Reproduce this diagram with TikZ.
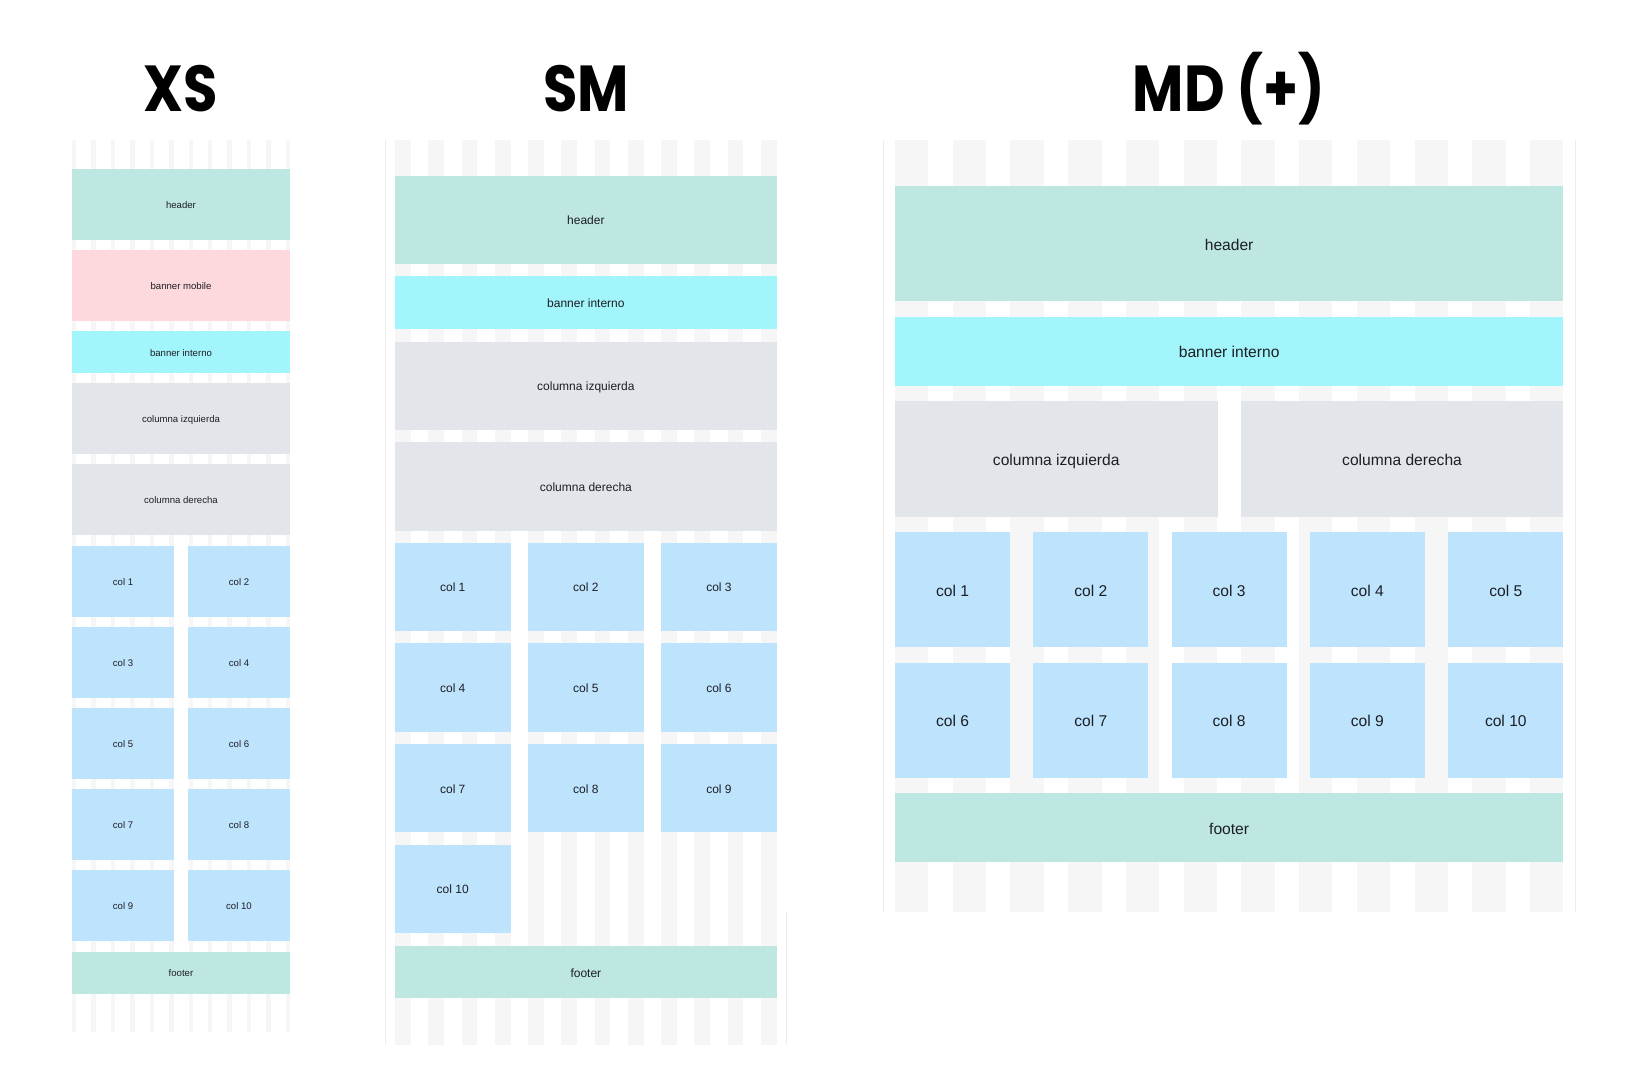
\documentclass[tikz,border=0pt]{standalone}
\usepackage{fontspec}
\setmainfont{Liberation Sans}
\newfontfamily\titlefont{Poppins}[FakeStretch=0.86]
\definecolor{ink}{RGB}{28,31,36}
\definecolor{menta}{RGB}{189,231,224}
\definecolor{rosa}{RGB}{253,217,221}
\definecolor{celeste}{RGB}{162,245,250}
\definecolor{gris}{RGB}{226,229,233}
\definecolor{azul}{RGB}{190,227,253}
\definecolor{franja}{RGB}{246,246,246}
\definecolor{borde}{RGB}{236,236,236}

\begin{document}
\begin{tikzpicture}[x=1pt, y=-1pt,
	caja/.style={inner sep=0pt, outer sep=0pt, text=ink, text depth=0pt},
	xs/.style={caja, font=\fontsize{9.6}{11}\selectfont, text height=8pt},
	sm/.style={caja, font=\fontsize{12}{14}\selectfont, text height=10.2pt},
	md/.style={caja, font=\fontsize{15.6}{18}\selectfont, text height=13.1pt},
	hdr/.style={fill=menta},
	bnm/.style={fill=rosa},
	bni/.style={fill=celeste},
	colu/.style={fill=gris},
	cel/.style={fill=azul},
	titulo/.style={anchor=base, inner sep=0pt, text=black, font=\titlefont\bfseries\fontsize{65}{70}\selectfont}]
	\useasboundingbox (0,0) rectangle (1629,1080);
	\fill[white] (0,0) rectangle (1629,1080);
		\node[titulo] (tituloxs) at (181,111) {XS};
		\node[titulo] (titulosm) at (586,111) {SM};
		\node[titulo] (titulomd) at (1229,111) {MD (+)};
		\foreach \i in {0,...,11} \fill[franja] ({72+\i*19.42},140) rectangle ++(4.4,891.7);
		\foreach \i in {0,...,11} \fill[franja] ({395+\i*33.27},140) rectangle ++(15.7,905);
		\foreach \i in {0,...,11} \fill[franja] ({895+\i*57.73},140) rectangle ++(33.3,771.7);
		\draw[borde, line width=1pt] (385,140) -- (385,1045);
		\draw[borde, line width=1pt] (786,912) -- (786,1045);
		\draw[borde, line width=1pt] (883,140) -- (883,911.7);
		\draw[borde, line width=1pt] (1575.3,140) -- (1575.3,911.7);
		\node[xs, hdr, minimum width=218, minimum height=71] (xsheader) at (181,204.5) {header};
		\node[xs, bnm, minimum width=218, minimum height=71] (xsbannermobile) at (181,285.5) {banner mobile};
		\node[xs, bni, minimum width=218, minimum height=42] (xsbannerinterno) at (181,352) {banner interno};
		\node[xs, colu, minimum width=218, minimum height=71] (xsizquierda) at (181,418.5) {columna izquierda};
		\node[xs, colu, minimum width=218, minimum height=71] (xsderecha) at (181,499.5) {columna derecha};
		\node[xs, cel, minimum width=102, minimum height=71] (xscol1) at (123,581) {col 1};
		\node[xs, cel, minimum width=102, minimum height=71] (xscol2) at (239,581) {col 2};
		\node[xs, cel, minimum width=102, minimum height=71] (xscol3) at (123,662) {col 3};
		\node[xs, cel, minimum width=102, minimum height=71] (xscol4) at (239,662) {col 4};
		\node[xs, cel, minimum width=102, minimum height=71] (xscol5) at (123,743) {col 5};
		\node[xs, cel, minimum width=102, minimum height=71] (xscol6) at (239,743) {col 6};
		\node[xs, cel, minimum width=102, minimum height=71] (xscol7) at (123,824) {col 7};
		\node[xs, cel, minimum width=102, minimum height=71] (xscol8) at (239,824) {col 8};
		\node[xs, cel, minimum width=102, minimum height=71] (xscol9) at (123,905) {col 9};
		\node[xs, cel, minimum width=102, minimum height=71] (xscol10) at (239,905) {col 10};
		\node[xs, hdr, minimum width=218, minimum height=42] (xsfooter) at (181,972.5) {footer};
		\node[sm, hdr, minimum width=381.7, minimum height=88.3] (smheader) at (585.85,219.85) {header};
		\node[sm, bni, minimum width=381.7, minimum height=53] (smbannerinterno) at (585.85,302.5) {banner interno};
		\node[sm, colu, minimum width=381.7, minimum height=88.3] (smizquierda) at (585.85,385.85) {columna izquierda};
		\node[sm, colu, minimum width=381.7, minimum height=88.3] (smderecha) at (585.85,486.5) {columna derecha};
		\node[sm, cel, minimum width=115.5, minimum height=88.3] (smcol1) at (452.75,586.85) {col 1};
		\node[sm, cel, minimum width=115.5, minimum height=88.3] (smcol2) at (585.85,586.85) {col 2};
		\node[sm, cel, minimum width=115.5, minimum height=88.3] (smcol3) at (718.95,586.85) {col 3};
		\node[sm, cel, minimum width=115.5, minimum height=88.3] (smcol4) at (452.75,687.5) {col 4};
		\node[sm, cel, minimum width=115.5, minimum height=88.3] (smcol5) at (585.85,687.5) {col 5};
		\node[sm, cel, minimum width=115.5, minimum height=88.3] (smcol6) at (718.95,687.5) {col 6};
		\node[sm, cel, minimum width=115.5, minimum height=88.3] (smcol7) at (452.75,788.15) {col 7};
		\node[sm, cel, minimum width=115.5, minimum height=88.3] (smcol8) at (585.85,788.15) {col 8};
		\node[sm, cel, minimum width=115.5, minimum height=88.3] (smcol9) at (718.95,788.15) {col 9};
		\node[sm, cel, minimum width=115.5, minimum height=88.3] (smcol10) at (452.75,888.85) {col 10};
		\node[sm, hdr, minimum width=381.7, minimum height=52.6] (smfooter) at (585.85,972) {footer};
		\node[md, hdr, minimum width=668.3, minimum height=115] (mdheader) at (1229.15,243.5) {header};
		\node[md, bni, minimum width=668.3, minimum height=69] (mdbannerinterno) at (1229.15,351.2) {banner interno};
		\node[md, colu, minimum width=322.5, minimum height=115.7] (mdizquierda) at (1056.25,458.85) {columna izquierda};
		\node[md, colu, minimum width=322.5, minimum height=115.7] (mdderecha) at (1402.05,458.85) {columna derecha};
		\node[md, cel, minimum width=115, minimum height=115] (mdcol1) at (952.5,589.8) {col 1};
		\node[md, cel, minimum width=115, minimum height=115] (mdcol2) at (1090.8,589.8) {col 2};
		\node[md, cel, minimum width=115, minimum height=115] (mdcol3) at (1229.1,589.8) {col 3};
		\node[md, cel, minimum width=115, minimum height=115] (mdcol4) at (1367.4,589.8) {col 4};
		\node[md, cel, minimum width=115, minimum height=115] (mdcol5) at (1505.8,589.8) {col 5};
		\node[md, cel, minimum width=115, minimum height=115] (mdcol6) at (952.5,720.2) {col 6};
		\node[md, cel, minimum width=115, minimum height=115] (mdcol7) at (1090.8,720.2) {col 7};
		\node[md, cel, minimum width=115, minimum height=115] (mdcol8) at (1229.1,720.2) {col 8};
		\node[md, cel, minimum width=115, minimum height=115] (mdcol9) at (1367.4,720.2) {col 9};
		\node[md, cel, minimum width=115, minimum height=115] (mdcol10) at (1505.8,720.2) {col 10};
		\node[md, hdr, minimum width=668.3, minimum height=69] (mdfooter) at (1229.15,827.8) {footer};
\end{tikzpicture}
\end{document}
